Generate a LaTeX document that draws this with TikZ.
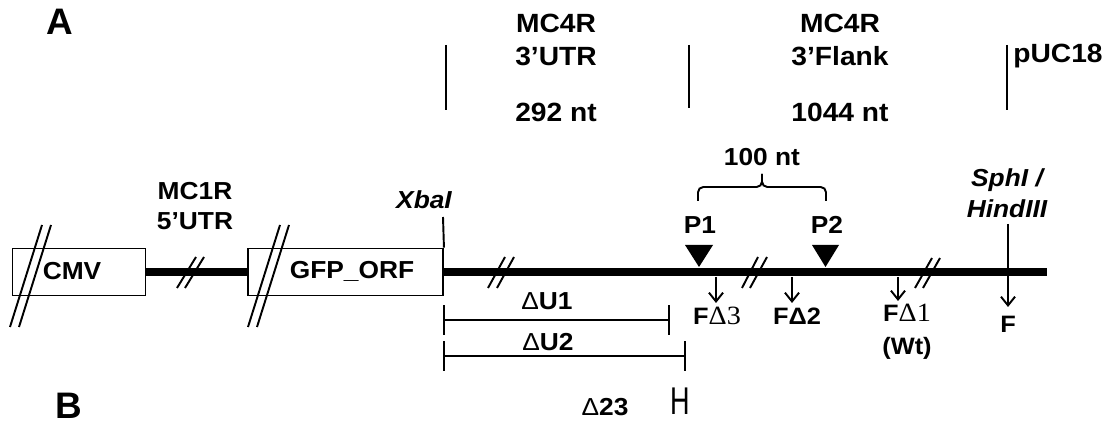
\documentclass[tikz,border=0pt]{standalone}
\usepackage{fontspec}
\setmainfont{Liberation Sans}
\newfontfamily\serifd{Liberation Serif}
\usetikzlibrary{arrows.meta}
\begin{document}
\begin{tikzpicture}[x=0.02cm,y=-0.02cm,
  lbl/.style={font=\fontsize{14}{17}\selectfont\bfseries, inner sep=0pt, align=center, xscale=1.07},
  toplbl/.style={font=\fontsize{15}{18.7}\selectfont\bfseries, inner sep=0pt, align=center, xscale=1.07},
  slbl/.style={font=\fontsize{13.5}{17}\selectfont\bfseries, inner sep=0pt, align=center, xscale=1.07},
  ilbl/.style={font=\fontsize{14}{17.5}\selectfont\bfseries\itshape, inner sep=0pt, align=center, xscale=1.07},
  big/.style={font=\fontsize{21}{24}\selectfont\bfseries, inner sep=0pt},
  boxn/.style={draw, line width=1.1pt, minimum height=0.94cm, inner sep=0pt},
  thin/.style={line width=1.1pt},
  dna/.style={line width=4pt},
  slash/.style={line width=1.1pt},
  arr/.style={line width=1.1pt, -{Straight Barb[length=5pt,width=8pt,line width=1.1pt]}},
  bar/.style={line width=1.1pt, {Bar[width=0.6cm,line width=1.1pt]}-{Bar[width=0.6cm,line width=1.1pt]}},
  tri/.style={fill=black}
]
\useasboundingbox (0,0) rectangle (1113,425);

% panel letters
\node[big] (A) at (60,22) {A};
\node[big] (B) at (69,406) {B};

% top region labels
\draw[thin] (446,45) -- (446,110);
\draw[thin] (689,45) -- (689,108);
\draw[thin] (1007,45) -- (1007,110);
\node[toplbl] (utr3) at (556,40) {MC4R\\3'UTR};
\node[toplbl] (utrlen) at (556,112) {292 nt};
\node[toplbl] (flank) at (840,40) {MC4R\\3'Flank};
\node[toplbl] (flanklen) at (840,112) {1044 nt};
\node[toplbl] (puc) at (1058,56) {pUC18};

% boxes and backbone
\node[boxn, minimum width=2.66cm] (cmv) at (79,272) {};
\node[lbl] (cmvt) at (72,271) {CMV};
\node[boxn, minimum width=3.9cm] (gfp) at (345.5,272) {};
\node[lbl] (gfpt) at (352,271) {GFP\_ORF};
\coordinate (lend) at (1047,272);
\draw[dna] (cmv.east) -- (gfp.west);
\draw[dna] (gfp.east) -- (lend);

\node[lbl] (mc1r) at (195,206) {MC1R\\5'UTR};

% double slashes
\draw[slash] (10,327) -- (42,225) (19,327) -- (51,225);
\draw[slash] (248,327) -- (280,225) (257,327) -- (289,225);
\draw[slash] (177,288) -- (196,257) (185,288) -- (204,257);
\draw[slash] (488,288) -- (505,257) (497,288) -- (514,257);
\draw[slash] (742,288) -- (758,257) (750,288) -- (767,257);
\draw[slash] (915,288) -- (932,258) (923,288) -- (940,258);

% XbaI
\node[ilbl] (xba) at (424,200) {XbaI};
\coordinate (xtop) at (443,217);
\draw[thin] (xtop) -- (gfp.north east);

% 100 nt brace
\node[lbl] (hundred) at (762,157) {100 nt};
\draw[thin, rounded corners=3pt] (698,201) -- (698,187) -- (762,187) -- (762,174);
\draw[thin, rounded corners=3pt] (762,174) -- (762,187) -- (826,187) -- (826,201);

% P1, P2
\node[lbl] (p1) at (700,225) {P1};
\node[lbl] (p2) at (827,225) {P2};
\fill[tri] (685,245) -- (713,245) -- (699,267) -- cycle;
\fill[tri] (812,245) -- (839,245) -- (825.5,267) -- cycle;

% deletion arrows
\node[slbl] (fd3) at (717,316) {F{\serifd\mdseries\fontsize{15}{15}\selectfont Δ3}};
\node[slbl] (fd2) at (797,316) {FΔ2};
\node[slbl] (fd1) at (907,332) {F{\serifd\mdseries\fontsize{15}{15}\selectfont Δ1}\\[2pt](Wt)};
\coordinate (a3s) at (716,277);
\coordinate (a3e) at (716,303);
\coordinate (a2s) at (792,277);
\coordinate (a2e) at (792,303);
\coordinate (a1s) at (898,277);
\coordinate (a1e) at (898,301);
\draw[arr] (a3s) -- (a3e);
\draw[arr] (a2s) -- (a2e);
\draw[arr] (a1s) -- (a1e);

% SphI / HindIII
\node[ilbl] (sph) at (1007,193) {SphI /\\HindIII};
\coordinate (fs) at (1008,224);
\coordinate (fe) at (1008,307);
\draw[arr] (fs) -- (fe);
\node[slbl] (f) at (1008,324) {F};

% Delta U bars
\node[lbl] (du1) at (547,301) {{\mdseries Δ}U1};
\coordinate (u1l) at (443,320);
\coordinate (u1r) at (670,320);
\draw[bar] (u1l) -- (u1r);
\node[lbl] (du2) at (548,342) {{\mdseries Δ}U2};
\coordinate (u2l) at (443,356);
\coordinate (u2r) at (686,356);
\draw[bar] (u2l) -- (u2r);

% Delta 23
\node[lbl] (d23) at (605,407) {{\mdseries Δ}23};
\node[inner sep=0pt, font=\fontsize{22}{22}\selectfont, xscale=0.7] (hmark) at (680,401) {H};
\end{tikzpicture}
\end{document}
